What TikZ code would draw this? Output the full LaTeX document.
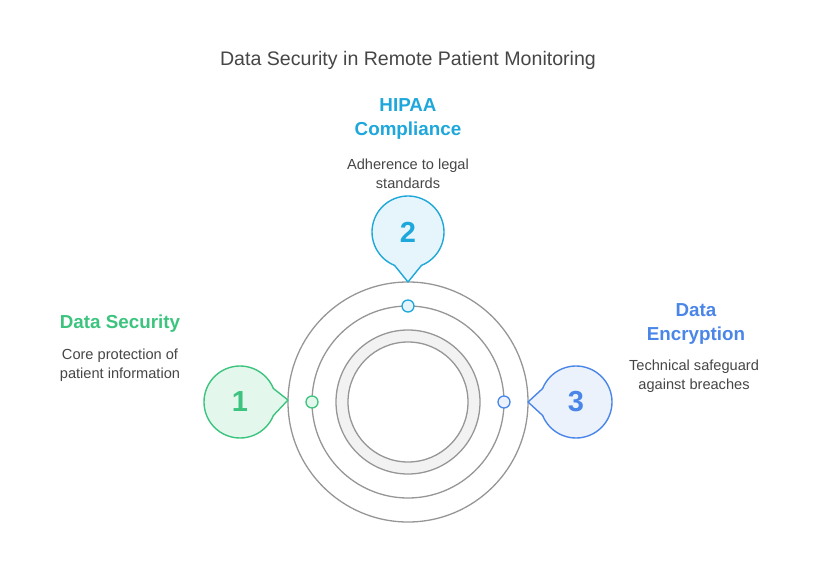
\documentclass[tikz,border=0pt]{standalone}
\usepackage{fontspec}
\setmainfont{Liberation Sans}
\usepackage{tikz}
\usetikzlibrary{positioning,calc}
\definecolor{rpgreen}{RGB}{60,196,126}
\definecolor{rpcyan}{RGB}{30,167,219}
\definecolor{rpblue}{RGB}{74,134,232}
\definecolor{rpgris}{RGB}{150,150,150}
\definecolor{rptext}{RGB}{70,70,70}
\begin{document}
\begin{tikzpicture}[x=1pt, y=1pt,
  ring/.style={draw=rpgris, line width=1.3pt},
  bubble/.style={line width=1.4pt, line join=round},
  num/.style={circle, minimum size=72pt, inner sep=0pt, font=\fontsize{29}{31}\selectfont\bfseries},
  dot/.style={circle, minimum size=12pt, inner sep=0pt, line width=1.3pt},
  head/.style={align=center, font=\fontsize{18.8}{24}\selectfont\bfseries},
  desc/.style={align=center, text=rptext, font=\fontsize{14.6}{19}\selectfont}
]
  \useasboundingbox (0,0) rectangle (816,582);

  % Title
  \node[text=rptext, font=\fontsize{19.6}{22}\selectfont] (title) at (408,522)
    {Data Security in Remote Patient Monitoring};

  % Rings
  \coordinate (ctr) at (408,180);
  \fill[black!5] (ctr) circle[radius=72] (ctr) circle[radius=60];
  \draw[ring, fill=white] (ctr) circle[radius=60];
  \draw[ring] (ctr) circle[radius=72];
  \draw[ring] (ctr) circle[radius=96];
  \draw[ring] (ctr) circle[radius=120];

  % Bubble 1
  \coordinate (tip1) at (288,182);
  \filldraw[bubble, draw=rpgreen, fill=rpgreen!14] (tip1) -- ($(240,180)+(-22:36)$)
    arc[start angle=-22, end angle=-338, radius=36] -- cycle;
  \node[num, text=rpgreen] (b1) at (240,180) {1};
  \node[dot, draw=rpgreen, fill=rpgreen!14] (d1) at (312,180) {};

  % Bubble 2
  \coordinate (tip2) at (408,300);
  \filldraw[bubble, draw=rpcyan, fill=rpcyan!11] (tip2) -- ($(408,350)+(-68:36)$)
    arc[start angle=-68, end angle=248, radius=36] -- cycle;
  \node[num, text=rpcyan] (b2) at (408,350) {2};
  \node[dot, draw=rpcyan, fill=rpcyan!11] (d2) at (408,276) {};

  % Bubble 3
  \coordinate (tip3) at (528,180);
  \filldraw[bubble, draw=rpblue, fill=rpblue!11] (tip3) -- ($(576,180)+(158:36)$)
    arc[start angle=158, end angle=-158, radius=36] -- cycle;
  \node[num, text=rpblue] (b3) at (576,180) {3};
  \node[dot, draw=rpblue, fill=rpblue!11] (d3) at (504,180) {};

  % Labels
  \node[head, text=rpgreen] (h1) at (120,258) {Data Security};
  \node[desc] (t1) at (120,216.5) {Core protection of\\patient information};
  \node[head, text=rpcyan] (h2) at (408,463) {HIPAA\\Compliance};
  \node[desc] (t2) at (408,408.5) {Adherence to legal\\standards};
  \node[head, text=rpblue] (h3) at (696,258) {Data\\Encryption};
  \node[desc] (t3) at (694,205.5) {Technical safeguard\\against breaches};
\end{tikzpicture}
\end{document}
